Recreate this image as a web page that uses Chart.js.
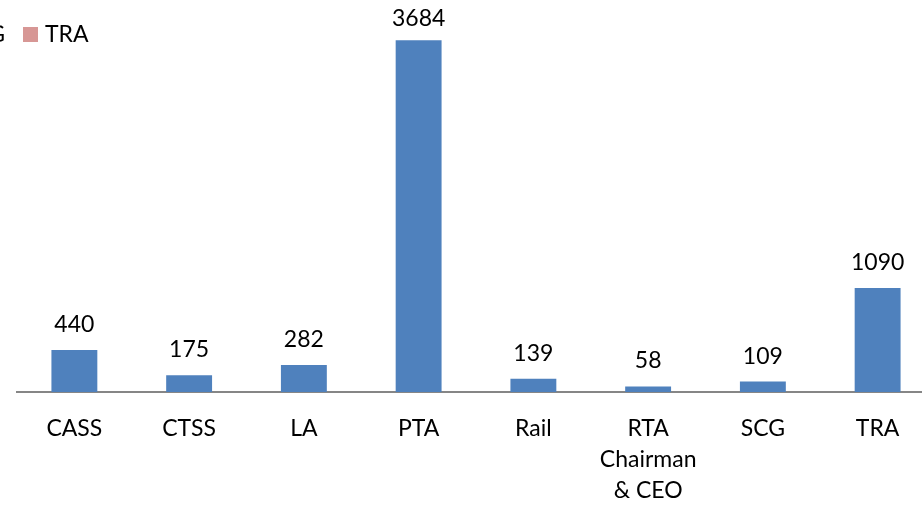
<!DOCTYPE html>
<html>
<head>
<meta charset="utf-8">
<script src="https://cdn.jsdelivr.net/npm/chart.js@4/dist/chart.umd.min.js"></script>
<style>
  html, body { margin: 0; padding: 0; background: #ffffff; overflow: hidden; }
  #wrap { position: relative; width: 940px; height: 506px; }
</style>
</head>
<body>
<div id="wrap"><canvas id="c"></canvas></div>
<script>
const categories = ['CASS', 'CTSS', 'LA', 'PTA', 'Rail', ['RTA', 'Chairman', '& CEO'], 'SCG', 'TRA'];
const values = [440, 175, 282, 3684, 139, 58, 109, 1090];
const legendLabels = ['CASS', 'CTSS', 'LA', 'PTA', 'Rail', 'RTA Chairman & CEO', 'SCG', 'TRA'];
const legendColors = ['#4F81BD', '#C0504D', '#9BBB59', '#8064A2', '#4BACC6', '#F79646', '#2C4D75', '#D79795'];

const FONT = 'Lato, "Open Sans", sans-serif';
const FSIZE = 23;

const dataLabels = {
  id: 'dataLabels',
  afterDatasetsDraw(chart) {
    const ctx = chart.ctx;
    const meta = chart.getDatasetMeta(0);
    ctx.save();
    ctx.font = FSIZE + 'px ' + FONT;
    ctx.fillStyle = '#000000';
    ctx.textAlign = 'center';
    ctx.textBaseline = 'alphabetic';
    meta.data.forEach((bar, i) => {
      const y = Math.max(bar.y - 18, 26);
      ctx.fillText(String(values[i]), bar.x, y);
    });
    ctx.restore();
  }
};

const cutLegend = {
  id: 'cutLegend',
  afterDraw(chart) {
    const ctx = chart.ctx;
    ctx.save();
    ctx.font = FSIZE + 'px ' + FONT;
    ctx.textBaseline = 'middle';
    ctx.textAlign = 'left';
    const sw = 15, gapText = 7, gapItem = 18;
    let widths = legendLabels.map(t => sw + gapText + ctx.measureText(t).width + gapItem);
    let x = 23 - widths.slice(0, -1).reduce((a, b) => a + b, 0);
    legendLabels.forEach((t, i) => {
      ctx.fillStyle = legendColors[i];
      ctx.fillRect(x, 27, sw, sw);
      ctx.fillStyle = '#000000';
      ctx.fillText(t, x + sw + gapText, 35);
      x += widths[i];
    });
    ctx.restore();
  }
};

new Chart(document.getElementById('c'), {
  type: 'bar',
  data: {
    labels: categories,
    datasets: [{
      label: 'Series',
      data: values,
      backgroundColor: '#4F81BD',
      borderWidth: 0,
      categoryPercentage: 1.0,
      barPercentage: 0.4
    }]
  },
  options: {
    responsive: true,
    maintainAspectRatio: false,
    animation: false,
    layout: { padding: { left: 17, right: 5, top: 10, bottom: 0 } },
    plugins: { legend: { display: false }, tooltip: { enabled: false } },
    scales: {
      y: { display: false, min: 0, max: 4000 },
      x: {
        grid: { display: false, drawTicks: false },
        border: { display: true, color: '#868686', width: 2 },
        ticks: {
          color: '#000000',
          padding: 21,
          maxRotation: 0,
          autoSkip: false,
          font: { family: FONT, size: FSIZE, lineHeight: 1.35 }
        },
        afterFit(scale) { scale.height = 114; }
      }
    }
  },
  plugins: [dataLabels, cutLegend]
});
</script>
</body>
</html>
